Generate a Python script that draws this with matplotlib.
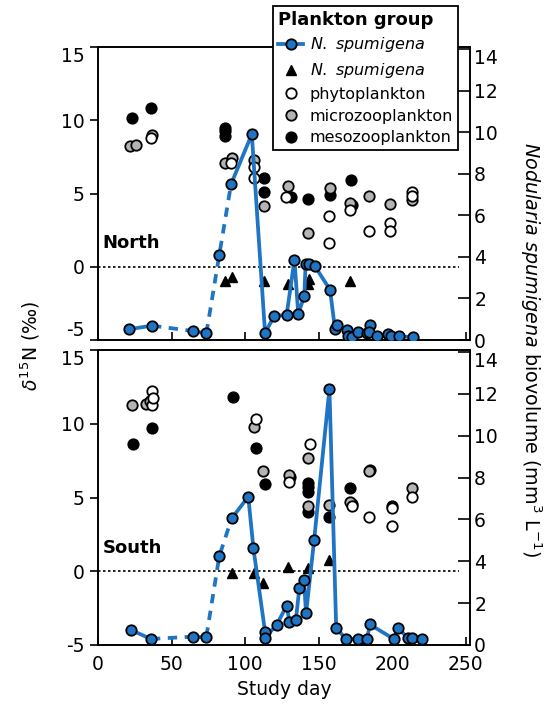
"""Nodularia spumigena biovolume and plankton d15N, North and South stations."""
import matplotlib
matplotlib.use("Agg")
import matplotlib.pyplot as plt
from matplotlib.lines import Line2D

plt.rcParams["font.family"] = ["DejaVu Sans"]
plt.rcParams["mathtext.fontset"] = "dejavusans"
plt.rcParams["axes.unicode_minus"] = False

BLUE = "#1f74c3"
GRAY = "#b4b4b4"

# ---- North ----
n_bio_day = [21.3, 36.7, 64.8, 73.7, 82.5, 90.5, 104.6, 113.6, 119.9, 128.3, 133.6, 136.2,
             140.3, 141.2, 143.2, 147.6, 157.8, 161.2, 162.4, 169.1, 170.3, 172.6, 177.1,
             182.8, 185.0, 184.5, 190.0, 197.5, 199.1, 204.8, 214.1]
n_bio = [0.52, 0.69, 0.43, 0.32, 4.1, 7.5, 9.9, 0.35, 1.15, 1.21, 3.86, 1.24,
         2.13, 3.67, 3.67, 3.54, 2.42, 0.52, 0.72, 0.48, 0.19, 0.16, 0.4,
         0.32, 0.72, 0.4, 0.19, 0.29, 0.19, 0.19, 0.13]
n_tri_day = [86.3, 90.9, 112.9, 129.3, 142.6, 143.2, 171.5]
n_tri = [-1.0, -0.7, -0.95, -1.2, -1.2, -0.85, -0.95]
n_phy_day = [36.0, 90.3, 106.1, 106.1, 128.0, 157.2, 157.2, 171.3, 184.5, 198.6, 198.6, 213.4, 213.4]
n_phy = [8.77, 7.1, 6.83, 6.07, 4.77, 3.49, 1.65, 3.9, 2.42, 3.0, 2.42, 5.09, 4.82]
n_mic_day = [21.8, 25.8, 36.9, 86.3, 90.9, 106.1, 112.9, 129.1, 143.0, 157.8, 171.1, 184.5, 198.6, 213.4]
n_mic = [8.24, 8.29, 9.02, 7.1, 7.45, 7.28, 4.13, 5.5, 2.31, 5.39, 4.36, 4.86, 4.3, 4.54]
n_mes_day = [22.9, 35.8, 86.3, 86.3, 86.3, 112.9, 112.9, 131.6, 142.6, 157.8, 172.1, 172.6]
n_mes = [10.14, 10.82, 9.5, 9.27, 8.92, 6.05, 5.1, 4.77, 4.6, 4.93, 5.91, 4.2]

# ---- South ----
s_bio_day = [22.3, 36.0, 64.8, 73.7, 82.5, 90.9, 102.2, 105.7, 113.6, 113.6, 121.5, 128.3,
             130.2, 134.6, 136.9, 140.1, 141.5, 147.0, 157.4, 162.0, 168.7, 176.6, 183.2,
             184.7, 201.1, 204.1, 211.0, 213.4, 220.5]
s_bio = [0.72, 0.29, 0.4, 0.4, 4.25, 6.05, 7.09, 4.62, 0.64, 0.35, 0.96, 1.88,
         1.11, 1.2, 2.71, 3.1, 1.51, 5.02, 12.24, 0.8, 0.29, 0.29, 0.29,
         0.99, 0.29, 0.8, 0.32, 0.32, 0.29]
s_tri_day = [90.9, 106.1, 112.4, 129.5, 143.0, 157.4]
s_tri = [-0.1, -0.1, -0.8, 0.3, 0.25, 0.75]
s_phy_day = [36.5, 36.5, 37.2, 107.5, 130.0, 144.2, 173.0, 184.5, 199.7, 199.7, 213.4]
s_phy = [12.22, 11.27, 11.72, 10.32, 6.03, 8.6, 4.45, 3.7, 4.27, 3.09, 5.06]
s_mic_day = [22.9, 32.7, 35.6, 106.1, 112.4, 130.2, 143.0, 143.0, 157.4, 171.1, 184.5, 213.4]
s_mic = [11.27, 11.32, 11.55, 9.8, 6.8, 6.52, 7.66, 4.42, 4.49, 4.72, 6.8, 5.62]
s_mes_day = [23.6, 36.9, 91.6, 107.5, 113.6, 130.6, 143.0, 143.0, 143.0, 143.0, 157.4, 171.5,
             172.6, 185.0, 199.7]
s_mes = [8.6, 9.73, 11.83, 8.38, 5.89, 6.41, 5.96, 5.73, 5.39, 4.04, 3.7, 5.62, 4.54, 6.85, 4.45]

x_ticks = [0, 50, 100, 150, 200, 250]
left_ticks = [-5, 0, 5, 10, 15]
right_ticks = [0, 2, 4, 6, 8, 10, 12, 14]

MS = 7.5
MEW = 1.3
FS = 13.5


def draw_panel(ax, name, bio_day, bio, tri_day, tri, phy_day, phy, mic_day, mic, mes_day, mes):
    ax.set_xlim(0, 253)
    ax.set_ylim(-5, 15)
    ax.axhline(0, xmax=0.97, color="k", ls=(0, (1.5, 1.5)), lw=1.2, zorder=1)
    ax.plot(mes_day, mes, "o", ms=MS, mfc="k", mec="k", mew=MEW, zorder=3)
    ax.plot(mic_day, mic, "o", ms=MS, mfc=GRAY, mec="k", mew=MEW, zorder=3)
    ax.plot(phy_day, phy, "o", ms=MS, mfc="white", mec="k", mew=MEW, zorder=3)
    ax.plot(tri_day, tri, "^", ms=7.5, mfc="k", mec="k", zorder=3)
    ax.text(3, 1.6, name, fontsize=13, fontweight="bold", va="center")
    ax.set_xticks(x_ticks)
    ax.set_yticks(left_ticks)
    ax.tick_params(axis="y", direction="out", length=6, width=1.2, labelsize=FS)
    ax.tick_params(axis="x", direction="in", length=6, width=1.2, labelsize=FS, pad=7.5)
    for s in ax.spines.values():
        s.set_linewidth(1.2)
    # top label sits just under the top spine
    ax.yaxis.get_major_ticks()[-1].label1.set_va("top")

    axr = ax.twinx()
    axr.set_ylim(0, 14.1)
    axr.set_yticks(right_ticks)
    axr.tick_params(axis="y", direction="in", length=9, width=1.2, labelsize=FS, pad=3)
    for s in axr.spines.values():
        s.set_linewidth(1.2)
    axr.yaxis.get_major_ticks()[-1].label2.set_va("top")
    # solid and dashed pieces of the biovolume line
    for a, b, ls in [(0, 2, "-"), (1, 3, (0, (2.5, 2))), (2, 4, "-"), (3, 6, (0, (2.5, 2))), (5, None, "-")]:
        axr.plot(bio_day[a:b], bio[a:b], ls=ls, color=BLUE, lw=2.7, zorder=2)
    axr.plot(bio_day, bio, "o", ls="none", ms=MS, mfc=BLUE, mec="k", mew=MEW, zorder=4)
    return axr


fig = plt.figure(figsize=(5.44, 7.06), dpi=100)
ax1 = fig.add_axes([98 / 544, 1 - 340 / 706, 372 / 544, 293 / 706])
ax2 = fig.add_axes([98 / 544, 1 - 645 / 706, 372 / 544, 295 / 706])

draw_panel(ax1, "North", n_bio_day, n_bio, n_tri_day, n_tri, n_phy_day, n_phy,
           n_mic_day, n_mic, n_mes_day, n_mes)
draw_panel(ax2, "South", s_bio_day, s_bio, s_tri_day, s_tri, s_phy_day, s_phy,
           s_mic_day, s_mic, s_mes_day, s_mes)
ax1.tick_params(axis="x", labelbottom=False)
ax1.yaxis.get_major_ticks()[0].label1.set_va("bottom")
ax2.set_xlabel("Study day", fontsize=FS, labelpad=4)

fig.text(0.055, 0.51, r"$\delta^{15}$N (‰)", rotation=90, fontsize=FS,
         ha="center", va="center")
fig.text(0.975, 0.505, r"$\it{Nodularia\ spumigena}$ biovolume (mm$^3$ L$^{-1}$)",
         rotation=270, fontsize=13.8, ha="center", va="center")

handles = [
    Line2D([], [], color=BLUE, lw=2.7, marker="o", ms=MS, mfc=BLUE, mec="k", mew=MEW),
    Line2D([], [], ls="none", marker="^", ms=7.5, mfc="k", mec="k"),
    Line2D([], [], ls="none", marker="o", ms=MS, mfc="white", mec="k", mew=MEW),
    Line2D([], [], ls="none", marker="o", ms=MS, mfc=GRAY, mec="k", mew=MEW),
    Line2D([], [], ls="none", marker="o", ms=MS, mfc="k", mec="k", mew=MEW),
]
labels = [r"$\it{N.\ spumigena}$", r"$\it{N.\ spumigena}$",
          "phytoplankton", "microzooplankton", "mesozooplankton"]
leg = fig.legend(handles, labels, loc="upper left", bbox_to_anchor=(273 / 544, 1 - 6 / 706),
                 title="Plankton group", title_fontproperties={"weight": "bold", "size": 13},
                 alignment="left", fontsize=11.5, frameon=True, fancybox=False, framealpha=1,
                 edgecolor="k", borderpad=0.3, labelspacing=0.42, handlelength=1.6,
                 handletextpad=0.4, borderaxespad=0)
leg.get_frame().set_linewidth(1.3)

fig.savefig("out.png", dpi=100)
